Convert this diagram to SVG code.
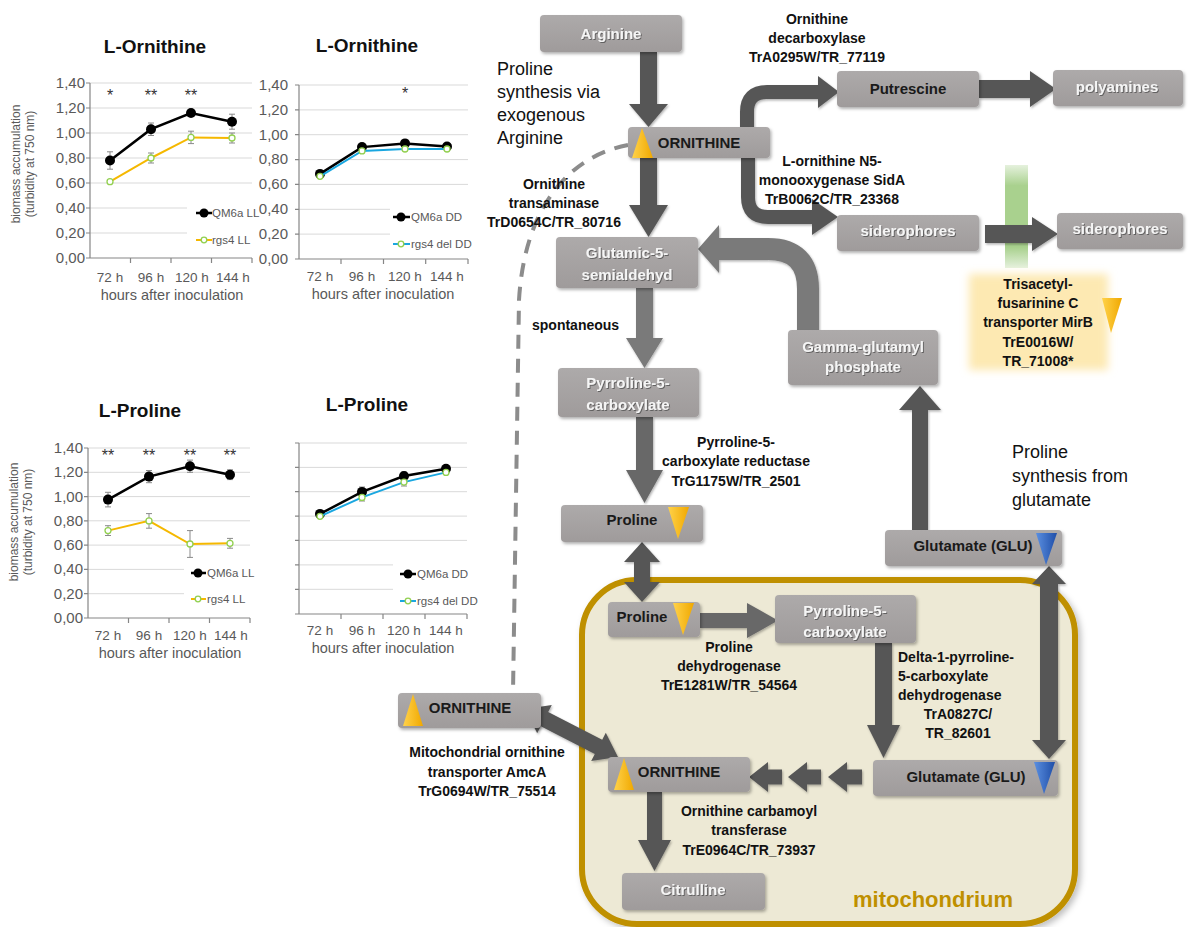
<svg xmlns="http://www.w3.org/2000/svg" width="1188" height="927" viewBox="0 0 1188 927">
<defs>
<style>
.box{fill:url(#boxg);filter:url(#sh)}
.bt{font:bold 15px "Liberation Sans",Arial,sans-serif;fill:#1a1a1a;text-anchor:middle}
.wt{font:bold 15px "Liberation Sans",Arial,sans-serif;fill:#f5f5f5;text-anchor:middle;filter:url(#ts)}
.lbl{font:bold 14px "Liberation Sans",Arial,sans-serif;fill:#111;text-anchor:middle}
.big{font:18px "Liberation Sans",Arial,sans-serif;fill:#111}
.arr{fill:#575757;filter:url(#ash)}
.arrl{fill:#7a7a7a;filter:url(#ash)}
.arrm{fill:#686868;filter:url(#ash)}
.carr{fill:none;stroke:#575757}
.carrl{fill:none;stroke:#7a7a7a}
.ytri{fill:url(#yg)}
.btri{fill:url(#bg)}
.grid{stroke:#d9d9d9;stroke-width:1}
.axis{stroke:#868686;stroke-width:1.2;fill:none}
.ctt{font:bold 19px "Liberation Sans",Arial,sans-serif;fill:#111;text-anchor:middle}
.yl{font:15px "Liberation Sans",Arial,sans-serif;fill:#595959;text-anchor:end}
.xl{font:13.5px "Liberation Sans",Arial,sans-serif;fill:#595959;text-anchor:middle}
.xt{font:14.5px "Liberation Sans",Arial,sans-serif;fill:#595959;text-anchor:middle}
.yt{font:12px "Liberation Sans",Arial,sans-serif;fill:#595959;text-anchor:middle}
.leg{font:11.5px "Liberation Sans",Arial,sans-serif;fill:#595959}
.ast{font:16px "Liberation Sans",Arial,sans-serif;fill:#333;text-anchor:middle}
.lk{fill:none;stroke:#000;stroke-width:2.5}
.lo{fill:none;stroke:#f5b800;stroke-width:2}
.lb{fill:none;stroke:#1aa7e0;stroke-width:2}
.mk{fill:#000}
.mo{fill:#fff;stroke:#92d050;stroke-width:1.3}
.eb{stroke:#8a8a8a;stroke-width:1}
</style>
<linearGradient id="boxg" x1="0" y1="0" x2="0" y2="1"><stop offset="0" stop-color="#adaaaa"/><stop offset="1" stop-color="#9f9b9b"/></linearGradient>
<linearGradient id="yg" x1="0" y1="0" x2="1" y2="0"><stop offset="0" stop-color="#ffd24a"/><stop offset="1" stop-color="#f0a800"/></linearGradient>
<linearGradient id="bg" x1="0" y1="0" x2="1" y2="0"><stop offset="0" stop-color="#5b8fe0"/><stop offset="1" stop-color="#1f4ea8"/></linearGradient>
<linearGradient id="gg" x1="0" y1="0" x2="0" y2="1"><stop offset="0" stop-color="#a9d18e" stop-opacity="0.3"/><stop offset="0.2" stop-color="#a9d18e"/><stop offset="0.8" stop-color="#a9d18e"/><stop offset="1" stop-color="#a9d18e" stop-opacity="0.3"/></linearGradient>
<filter id="sh" x="-10%" y="-20%" width="130%" height="150%"><feDropShadow dx="1.5" dy="2" stdDeviation="1.5" flood-color="#000" flood-opacity="0.3"/></filter>
<filter id="ash" x="-20%" y="-20%" width="150%" height="150%"><feDropShadow dx="1" dy="1.5" stdDeviation="1.2" flood-color="#000" flood-opacity="0.3"/></filter>
<filter id="ts" x="-10%" y="-30%" width="120%" height="160%"><feDropShadow dx="1" dy="1" stdDeviation="0.6" flood-color="#444" flood-opacity="0.7"/></filter>
<filter id="blur" x="-10%" y="-10%" width="120%" height="120%"><feGaussianBlur stdDeviation="4"/></filter>
<filter id="msh" x="-5%" y="-5%" width="110%" height="110%"><feDropShadow dx="3" dy="3" stdDeviation="3" flood-color="#000" flood-opacity="0.25"/></filter>
</defs>
<rect width="1188" height="927" fill="#fff"/>

<!-- Chart 1 -->
<g id="chart-ornithine-LL">
<text class="ctt" x="155" y="53">L-Ornithine</text>
<g class="grid"><line x1="90" y1="83" x2="252" y2="83"/><line x1="90" y1="108" x2="252" y2="108"/><line x1="90" y1="133" x2="252" y2="133"/><line x1="90" y1="158" x2="252" y2="158"/><line x1="90" y1="183" x2="252" y2="183"/><line x1="90" y1="208" x2="187" y2="208"/><line x1="90" y1="233" x2="187" y2="233"/></g>
<path class="axis" d="M90 83V258H252M86 83H90M86 108H90M86 133H90M86 158H90M86 183H90M86 208H90M86 233H90M86 258H90M130.5 258V263M171 258V263M211.5 258V263M252 258V263"/>
<g class="yl"><text x="85" y="88">1,40</text><text x="85" y="113">1,20</text><text x="85" y="138">1,00</text><text x="85" y="163">0,80</text><text x="85" y="188">0,60</text><text x="85" y="213">0,40</text><text x="85" y="238">0,20</text><text x="85" y="263">0,00</text></g>
<g class="xl"><text x="110" y="282">72 h</text><text x="151" y="282">96 h</text><text x="192" y="282">120 h</text><text x="233" y="282">144 h</text></g>
<text class="xt" x="172" y="300">hours after inoculation</text>
<text class="yt" transform="translate(20,164) rotate(-90)">biomass accumulation</text>
<text class="yt" transform="translate(34,164) rotate(-90)">(turbidity at 750 nm)</text>
<g class="eb"><path d="M110 151.8V169.2M151 123V135.5M191 110.5V115.5M232 114.2V129.2M107 151.8H113M107 169.2H113M148 123H154M148 135.5H154M229 114.2H235M229 129.2H235"/><path d="M110 179.2V184.2M151 153V163M191 131.2V143.6M232 133V143M148 153H154M148 163H154M188 131.2H194M188 143.6H194M229 133H235M229 143H235"/></g>
<polyline class="lk" points="110,160.5 151,129.2 191,113 232,121.7"/>
<g class="mk"><circle cx="110" cy="160.5" r="5"/><circle cx="151" cy="129.2" r="5"/><circle cx="191" cy="113" r="5"/><circle cx="232" cy="121.7" r="5"/></g>
<polyline class="lo" points="110,181.7 151,158 191,137.4 232,138"/>
<g class="mo"><circle cx="110" cy="181.7" r="3"/><circle cx="151" cy="158" r="3"/><circle cx="191" cy="137.4" r="3"/><circle cx="232" cy="138" r="3"/></g>
<g class="ast"><text x="110" y="101">*</text><text x="151" y="101">**</text><text x="191" y="101">**</text></g>
<line class="lk" x1="196" y1="213" x2="212" y2="213"/><circle class="mk" cx="204" cy="213" r="4.5"/><text class="leg" x="212" y="217">QM6a LL</text>
<line class="lo" x1="196" y1="240" x2="212" y2="240"/><circle class="mo" cx="204" cy="240" r="2.8"/><text class="leg" x="212" y="244">rgs4 LL</text>
</g>

<!-- Chart 2 -->
<g id="chart-ornithine-DD">
<text class="ctt" x="367" y="52">L-Ornithine</text>
<g class="grid"><line x1="299" y1="85" x2="468" y2="85"/><line x1="299" y1="109.9" x2="468" y2="109.9"/><line x1="299" y1="134.7" x2="468" y2="134.7"/><line x1="299" y1="159.6" x2="468" y2="159.6"/><line x1="299" y1="184.4" x2="468" y2="184.4"/><line x1="299" y1="209.3" x2="390" y2="209.3"/><line x1="299" y1="234.1" x2="390" y2="234.1"/></g>
<path class="axis" d="M299 85V259H468M295 85H299M295 109.9H299M295 134.7H299M295 159.6H299M295 184.4H299M295 209.3H299M295 234.1H299M295 259H299M341 259V264M383.5 259V264M425.7 259V264M468 259V264"/>
<g class="yl"><text x="288" y="90">1,40</text><text x="288" y="115">1,20</text><text x="288" y="140">1,00</text><text x="288" y="164">0,80</text><text x="288" y="189">0,60</text><text x="288" y="214">0,40</text><text x="288" y="239">0,20</text><text x="288" y="264">0,00</text></g>
<g class="xl"><text x="320" y="281">72 h</text><text x="362" y="281">96 h</text><text x="405" y="281">120 h</text><text x="447" y="281">144 h</text></g>
<text class="xt" x="383" y="299">hours after inoculation</text>
<polyline class="lk" points="320,173.9 362,147.1 405,143.4 447,146.5"/>
<g class="mk"><circle cx="320" cy="173.9" r="5"/><circle cx="362" cy="147.1" r="5"/><circle cx="405" cy="143.4" r="5"/><circle cx="447" cy="146.5" r="5"/></g>
<polyline class="lb" points="320,176.3 362,150.9 405,149 447,149"/>
<g class="mo"><circle cx="320" cy="176.3" r="3"/><circle cx="362" cy="150.9" r="3"/><circle cx="405" cy="149" r="3"/><circle cx="447" cy="149" r="3"/></g>
<text class="ast" x="405" y="99">*</text>
<line class="lk" x1="393" y1="217" x2="410" y2="217"/><circle class="mk" cx="401" cy="217" r="4.5"/><text class="leg" x="411" y="221">QM6a DD</text>
<line class="lb" x1="393" y1="244" x2="410" y2="244"/><circle class="mo" cx="401" cy="244" r="2.8"/><text class="leg" x="411" y="248">rgs4 del DD</text>
</g>

<!-- Chart 3 -->
<g id="chart-proline-LL">
<text class="ctt" x="140" y="417">L-Proline</text>
<g class="grid"><line x1="88" y1="448" x2="250" y2="448"/><line x1="88" y1="472.3" x2="250" y2="472.3"/><line x1="88" y1="496.6" x2="250" y2="496.6"/><line x1="88" y1="520.8" x2="250" y2="520.8"/><line x1="88" y1="545.1" x2="250" y2="545.1"/><line x1="88" y1="569.4" x2="184" y2="569.4"/><line x1="88" y1="593.7" x2="184" y2="593.7"/></g>
<path class="axis" d="M88 448V618H250M84 448H88M84 472.3H88M84 496.6H88M84 520.8H88M84 545.1H88M84 569.4H88M84 593.7H88M84 618H88M128.5 618V623M169 618V623M209.5 618V623M250 618V623"/>
<g class="yl"><text x="83" y="453">1,40</text><text x="83" y="477">1,20</text><text x="83" y="502">1,00</text><text x="83" y="526">0,80</text><text x="83" y="550">0,60</text><text x="83" y="574">0,40</text><text x="83" y="599">0,20</text><text x="83" y="623">0,00</text></g>
<g class="xl"><text x="108" y="640">72 h</text><text x="149" y="640">96 h</text><text x="190" y="640">120 h</text><text x="231" y="640">144 h</text></g>
<text class="xt" x="170" y="658">hours after inoculation</text>
<text class="yt" transform="translate(18,522) rotate(-90)">biomass accumulation</text>
<text class="yt" transform="translate(32,522) rotate(-90)">(turbidity at 750 nm)</text>
<g class="eb"><path d="M108 492.3V506.9M149 470.5V482.7M190 460.1V472.3M230 469.8V479.6M105 492.3H111M105 506.9H111M146 470.5H152M146 482.7H152M187 460.1H193M187 472.3H193M227 469.8H233M227 479.6H233"/><path d="M108 525.7V535.5M149 513.6V528.2M190 530.6V557.4M230 538.4V548.2M105 525.7H111M105 535.5H111M146 513.6H152M146 528.2H152M187 530.6H193M187 557.4H193M227 538.4H233M227 548.2H233"/></g>
<polyline class="lk" points="108,499.6 149,476.6 190,466.2 230,474.7"/>
<g class="mk"><circle cx="108" cy="499.6" r="5"/><circle cx="149" cy="476.6" r="5"/><circle cx="190" cy="466.2" r="5"/><circle cx="230" cy="474.7" r="5"/></g>
<polyline class="lo" points="108,530.6 149,520.9 190,544 230,543.3"/>
<g class="mo"><circle cx="108" cy="530.6" r="3"/><circle cx="149" cy="520.9" r="3"/><circle cx="190" cy="544" r="3"/><circle cx="230" cy="543.3" r="3"/></g>
<g class="ast"><text x="108" y="461">**</text><text x="149" y="461">**</text><text x="190" y="461">**</text><text x="230" y="461">**</text></g>
<line class="lk" x1="191" y1="573" x2="206" y2="573"/><circle class="mk" cx="198" cy="573" r="4.5"/><text class="leg" x="207" y="577">QM6a LL</text>
<line class="lo" x1="191" y1="599" x2="206" y2="599"/><circle class="mo" cx="198" cy="599" r="2.8"/><text class="leg" x="207" y="603">rgs4 LL</text>
</g>

<!-- Chart 4 -->
<g id="chart-proline-DD">
<text class="ctt" x="367" y="411">L-Proline</text>
<g class="grid"><line x1="299" y1="443" x2="467" y2="443"/><line x1="299" y1="467.4" x2="467" y2="467.4"/><line x1="299" y1="491.7" x2="467" y2="491.7"/><line x1="299" y1="516.1" x2="467" y2="516.1"/><line x1="299" y1="540.4" x2="467" y2="540.4"/><line x1="299" y1="564.9" x2="393" y2="564.9"/><line x1="299" y1="589.3" x2="393" y2="589.3"/></g>
<path class="axis" d="M299 443V614H467M295 443H299M295 467.4H299M295 491.7H299M295 516.1H299M295 540.4H299M295 564.9H299M295 589.3H299M295 614H299M341 614V619M383 614V619M425 614V619M467 614V619"/>
<g class="xl"><text x="320" y="635">72 h</text><text x="362" y="635">96 h</text><text x="404" y="635">120 h</text><text x="446" y="635">144 h</text></g>
<text class="xt" x="383" y="653">hours after inoculation</text>
<g class="eb"><path d="M362 487V501M404 472V486M359 487H365M359 501H365M401 472H407M401 486H407"/></g>
<polyline class="lk" points="320,513.9 362,491.9 404,476 446,468.7"/>
<g class="mk"><circle cx="320" cy="513.9" r="5"/><circle cx="362" cy="491.9" r="5"/><circle cx="404" cy="476" r="5"/><circle cx="446" cy="468.7" r="5"/></g>
<polyline class="lb" points="320,516.3 362,497.4 404,482.1 446,472.4"/>
<g class="mo"><circle cx="320" cy="516.3" r="3"/><circle cx="362" cy="497.4" r="3"/><circle cx="404" cy="482.1" r="3"/><circle cx="446" cy="472.4" r="3"/></g>
<line class="lk" x1="400" y1="574" x2="416" y2="574"/><circle class="mk" cx="408" cy="574" r="4.5"/><text class="leg" x="417" y="578">QM6a DD</text>
<line class="lb" x1="400" y1="601" x2="416" y2="601"/><circle class="mo" cx="408" cy="601" r="2.8"/><text class="leg" x="417" y="605">rgs4 del DD</text>
</g>

<!-- Mitochondrion -->
<g id="mitochondrion">
<rect x="582" y="580" width="493" height="344" rx="55" fill="#ede9d5" stroke="#bf9000" stroke-width="6" filter="url(#msh)"/>
<text x="853" y="907" style="font:bold 22px 'Liberation Sans',Arial,sans-serif;fill:#bf9000">mitochondrium</text>
</g>

<!-- Transporter highlight -->
<g id="transporter-mirB">
<rect x="1005" y="165" width="23" height="103" fill="url(#gg)"/>
<rect x="969" y="274" width="139" height="96" fill="#fde9b2" filter="url(#blur)"/>
<g class="lbl"><text x="1038" y="289">Trisacetyl-</text><text x="1038" y="308">fusarinine C</text><text x="1038" y="327">transporter MirB</text><text x="1038" y="347">TrE0016W/</text><text x="1038" y="366">TR_71008*</text></g>
<polygon class="ytri" points="1102,298 1122,298 1111,333"/>
</g>

<!-- Connectors -->
<g id="connectors">
<path d="M628 145C575 155 525 200 519 300L513 693" fill="none" stroke="#8c8c8c" stroke-width="4" stroke-dasharray="14 10"/>
<polygon class="arr" points="640,52 657,52 657,104 668,104 648.5,127 629,104 640,104"/>
<polygon class="arr" points="640,158 657,158 657,205 668,205 648.5,237 629,205 640,205"/>
<polygon class="arrl" points="636,288 653,288 653,338 663,338 644.5,368 626,338 636,338"/>
<polygon class="arrm" points="636,417 653,417 653,470 663,470 644.5,503 626,470 636,470"/>
<polygon class="arr" points="642,542 660,562 650,562 650,582 660,582 642,602 624,582 634,582 634,562 624,562"/>
<g filter="url(#ash)">
<path class="carr" stroke-width="14" d="M747 128V112Q747 92 767 92H820"/>
<polygon fill="#575757" points="818,76 839,92 818,108"/>
<path class="carr" stroke-width="14" d="M748 157V197Q748 217 768 217H814"/>
<polygon fill="#575757" points="812,199 838,217 812,235"/>
<path class="carrl" stroke-width="22" d="M808 332V289Q808 249 768 249H716"/>
<polygon fill="#7a7a7a" points="719,225 698,249 719,273"/>
</g>
<polygon class="arr" points="979,80 1030,80 1030,71 1056,89 1030,107 1030,98 979,98"/>
<polygon class="arr" points="985,225 1032,225 1032,217 1058,234 1032,251 1032,243 985,243"/>
<polygon class="arr" points="912,530 928,530 928,410 941,410 920,386 899,410 912,410"/>
<polygon class="arr" points="1049,566 1066,584 1058,584 1058,740 1066,740 1049,759 1032,740 1040,740 1040,584 1032,584"/>
<polygon class="arr" points="875,643 892,643 892,725 900,725 883.5,758 867,725 875,725"/>
<polygon class="arrm" points="700,613 747,613 747,603 778,620.5 747,638 747,628 700,628"/>
<polygon class="arr" points="749,777 768,762 768,769.5 782,769.5 782,784.5 768,784.5 768,792"/>
<polygon class="arr" points="788,777 807,762 807,769.5 821,769.5 821,784.5 807,784.5 807,792"/>
<polygon class="arr" points="828,777 847,762 847,769.5 862,769.5 862,784.5 847,784.5 847,792"/>
<polygon class="arr" points="525,709 537.2,733.3 540.8,726.2 594.8,754 591.2,761.1 618,757 605.8,732.7 602.2,739.8 548.2,712 551.8,704.9"/>
<polygon class="arr" points="647,792 662,792 662,840 671,840 654.5,871 638,840 647,840"/>
</g>

<!-- Nodes -->
<g id="arginine"><rect class="box" x="540" y="15" width="142" height="37" rx="4"/><text class="wt" x="611" y="39">Arginine</text></g>
<g id="ornithine-cyto"><rect class="box" x="628" y="127" width="142" height="31" rx="4"/><polygon class="ytri" points="632,158 642,128 653,158"/><text class="bt" x="699" y="148">ORNITHINE</text></g>
<g id="glutamic-semialdehyde"><rect class="box" x="556" y="237" width="142" height="51" rx="4"/><text class="wt" x="627" y="258">Glutamic-5-</text><text class="wt" x="627" y="280">semialdehyd</text></g>
<g id="pyrroline-cyto"><rect class="box" x="558" y="368" width="141" height="49" rx="4"/><text class="wt" x="628" y="388">Pyrroline-5-</text><text class="wt" x="628" y="410">carboxylate</text></g>
<g id="proline-cyto"><rect class="box" x="561" y="505" width="142" height="37" rx="4"/><text class="bt" x="632" y="525">Proline</text><polygon class="ytri" points="668,507 689,507 678,539"/></g>
<g id="putrescine"><rect class="box" x="837" y="71" width="142" height="36" rx="4"/><text class="bt" x="908" y="94">Putrescine</text></g>
<g id="polyamines"><rect class="box" x="1053" y="70" width="130" height="36" rx="4"/><text class="wt" x="1117" y="92">polyamines</text></g>
<g id="siderophores-in"><rect class="box" x="837" y="215" width="142" height="36" rx="4"/><text class="wt" x="908" y="236">siderophores</text></g>
<g id="siderophores-out"><rect class="box" x="1057" y="213" width="126" height="36" rx="4"/><text class="wt" x="1120" y="234">siderophores</text></g>
<g id="gamma-glutamyl-phosphate"><rect class="box" x="788" y="330" width="150" height="55" rx="4"/><text class="wt" x="863" y="352">Gamma-glutamyl</text><text class="wt" x="863" y="372">phosphate</text></g>
<g id="glutamate-cyto"><rect class="box" x="885" y="530" width="177" height="36" rx="4"/><text class="bt" x="973" y="551">Glutamate (GLU)</text><polygon class="btri" points="1036,533 1057,533 1046,565"/></g>
<g id="proline-mito"><rect class="box" x="608" y="602" width="92" height="35" rx="4"/><text class="bt" x="642" y="622">Proline</text><polygon class="ytri" points="673,603 694,603 683,635"/></g>
<g id="pyrroline-mito"><rect class="box" x="775" y="595" width="141" height="48" rx="4"/><text class="wt" x="845" y="616">Pyrroline-5-</text><text class="wt" x="845" y="637">carboxylate</text></g>
<g id="ornithine-outer"><rect class="box" x="398" y="693" width="143" height="35" rx="4"/><polygon class="ytri" points="403,726 413,694 423,726"/><text class="bt" x="470" y="713">ORNITHINE</text></g>
<g id="ornithine-mito"><rect class="box" x="608" y="757" width="142" height="35" rx="4"/><polygon class="ytri" points="614,790 624,758 634,790"/><text class="bt" x="679" y="777">ORNITHINE</text></g>
<g id="citrulline"><rect class="box" x="622" y="873" width="143" height="37" rx="4"/><text class="wt" x="693" y="895">Citrulline</text></g>
<g id="glutamate-mito"><rect class="box" x="873" y="760" width="185" height="36" rx="4"/><text class="bt" x="966" y="782">Glutamate (GLU)</text><polygon class="btri" points="1034,762 1055,762 1044,794"/></g>

<!-- Labels -->
<g id="labels">
<g class="big"><text x="497" y="75">Proline</text><text x="497" y="98">synthesis via</text><text x="497" y="121">exogenous</text><text x="497" y="144">Arginine</text></g>
<g class="big"><text x="1012" y="458">Proline</text><text x="1012" y="482">synthesis from</text><text x="1012" y="506">glutamate</text></g>
<g class="lbl">
<text x="817" y="24">Ornithine</text><text x="817" y="43">decarboxylase</text><text x="817" y="62">TrA0295W/TR_77119</text>
<text x="832" y="166">L-ornithine N5-</text><text x="832" y="185">monooxygenase SidA</text><text x="832" y="204">TrB0062C/TR_23368</text>
<text x="554" y="189">Ornithine</text><text x="554" y="208">transaminase</text><text x="554" y="227">TrD0654C/TR_80716</text>
<text x="736" y="447">Pyrroline-5-</text><text x="736" y="466">carboxylate reductase</text><text x="736" y="486">TrG1175W/TR_2501</text>
<text x="729" y="652">Proline</text><text x="729" y="671">dehydrogenase</text><text x="729" y="690">TrE1281W/TR_54564</text>
<text x="958" y="719">TrA0827C/</text><text x="958" y="738">TR_82601</text>
<text x="487" y="757">Mitochondrial ornithine</text><text x="487" y="777">transporter AmcA</text><text x="487" y="796">TrG0694W/TR_75514</text>
<text x="749" y="816">Ornithine carbamoyl</text><text x="749" y="835">transferase</text><text x="749" y="855">TrE0964C/TR_73937</text>
</g>
<g class="lbl" style="text-anchor:start"><text x="532" y="330">spontaneous</text><text x="898" y="662">Delta-1-pyrroline-</text><text x="898" y="681">5-carboxylate</text><text x="898" y="700">dehydrogenase</text></g>
</g>
</svg>
